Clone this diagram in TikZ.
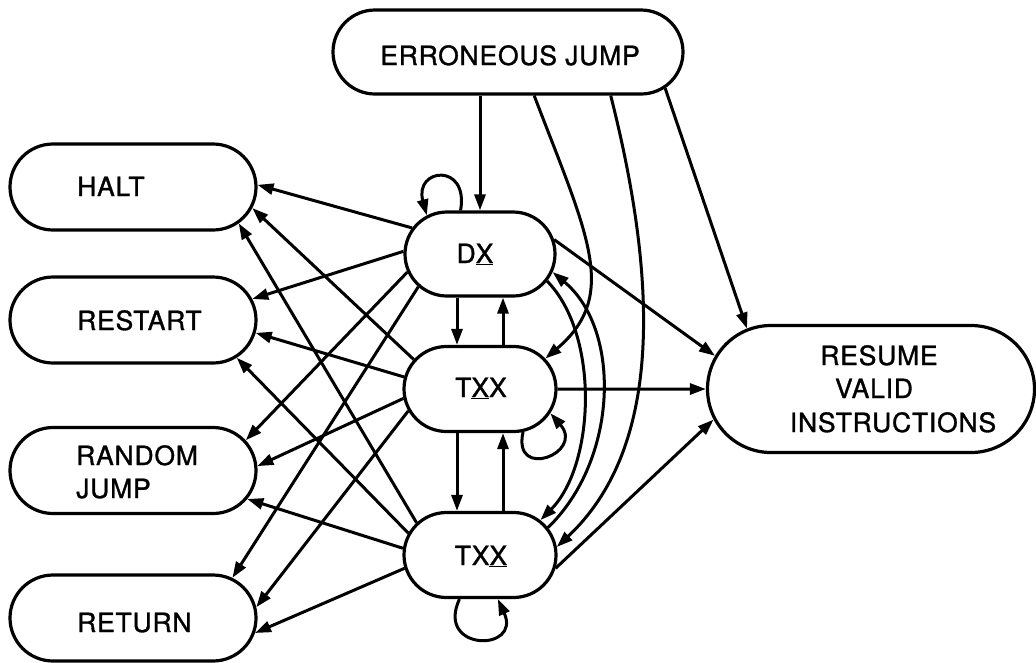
\documentclass[tikz,border=0pt]{standalone}
\usepackage{fontspec}
\setmainfont{TeX Gyre Heros}[LetterSpace=3,FakeBold=1.2]
\usetikzlibrary{arrows.meta,shapes.misc}
\begin{document}
\begin{tikzpicture}[x=1pt,y=-1pt,
  box/.style={draw, rounded rectangle, line width=3.2pt, minimum height=86pt, inner sep=0pt},
  lbl/.style={font=\fontsize{26.5}{33}\selectfont, inner sep=0pt},
  arr/.style={line width=3pt, -{Triangle[length=16pt,width=11pt]}}]
\useasboundingbox (0,0) rectangle (1036,662);
\fill[white] (0,0) rectangle (1036,662);

% boxes
\node[box, minimum width=246pt] (halt) at (133,187) {};
\node[box, minimum width=246pt] (restart) at (133,320) {};
\node[box, minimum width=246pt] (random) at (133,470.5) {};
\node[box, minimum width=246pt] (return) at (133,618) {};
\node[box, minimum width=350pt, minimum height=84pt] (err) at (508,52) {};
\node[box, minimum width=150pt, minimum height=84pt] (dx) at (480,254) {};
\node[box, minimum width=152pt, minimum height=85pt] (txxm) at (480,389) {};
\node[box, minimum width=152pt, minimum height=85pt] (txxb) at (480,555) {};
\node[box, minimum width=327pt, minimum height=127pt] (resume) at (871,389) {};

% texts
\node[lbl, anchor=base west] (haltt) at (77,196) {HALT};
\node[lbl, anchor=base west] (restartt) at (77,330) {RESTART};
\node[lbl, anchor=base west, align=left] (randomt) at (76,498) {RANDOM\\JUMP};
\node[lbl, anchor=base west] (returnt) at (77,632) {RETURN};
\node[lbl, anchor=base] (errt) at (510,65) {ERRONEOUS JUMP};
\node[lbl, anchor=base] (dxt) at (475,263) {D\underline{X}};
\node[lbl, anchor=base] (txxmt) at (481,397) {T\underline{X}X};
\node[lbl, anchor=base] (txxbt) at (481,565) {TX\underline{X}};
\node[lbl, anchor=base] (res1) at (879,365) {RESUME};
\node[lbl, anchor=base] (res2) at (874,398) {VALID};
\node[lbl, anchor=base] (res3) at (893,432) {INSTRUCTIONS};

% from erroneous jump
\draw[arr] (dx.north |- err.south) -- (dx.north);
\draw[arr] (err.-59) .. controls (587,234) and (620,295) .. (txxm.25);
\draw[arr] (err.-23) .. controls (660,290) and (660,450) .. (txxb.6);
\draw[arr] (err.-13) -- (resume.154);

% to resume
\draw[arr] (dx.11) -- (resume.168);
\draw[arr] (txxm) -- (resume);
\draw[arr] (txxb.-10) -- (resume.191);

% vertical links
\draw[arr] ([xshift=-23pt]dx.south) -- ([xshift=-23pt]dx.south |- txxm.north);
\draw[arr] ([xshift=23pt]txxm.north) -- ([xshift=23pt]txxm.north |- dx.south);
\draw[arr] ([xshift=-23pt]txxm.south) -- ([xshift=-23pt]txxm.south |- txxb.north);
\draw[arr] ([xshift=23pt]txxb.north) -- ([xshift=23pt]txxb.north |- txxm.south);

% arcs between dx and bottom txx
\draw[arr] (dx.-22) .. controls (600,335) and (595,465) .. (txxb.30);
\draw[arr] (txxb.22) .. controls (618,460) and (622,330) .. (dx.-14);

% loops
\draw[arr] (dx.114) .. controls (469,162) and (414,168) .. (dx.144);
\draw[arr] (txxm.-45) .. controls (512,481) and (585,453) .. (txxm.-19);
\draw[arr] (txxb.-115) .. controls (435,652) and (522,652) .. (txxb.-68);

% to left column
\draw[arr] (dx.159) -- (halt.1);
\draw[arr] (dx.178) -- (restart.10);
\draw[arr] (dx.194) -- (random.15);
\draw[arr] (dx.208) -- (return.22);
\draw[arr] (txxm.156) -- (halt.-10);
\draw[arr] (txxm.171) -- (restart.-6);
\draw[arr] (txxm.187) -- (random.2);
\draw[arr] (txxm.197) -- (return.5);
\draw[arr] (txxb.153) -- (halt.-19);
\draw[arr] (txxb.163) -- (restart.-20);
\draw[arr] (txxb.175) -- (random.-14);
\draw[arr] (txxb.190) -- (return.-7);
\end{tikzpicture}
\end{document}
